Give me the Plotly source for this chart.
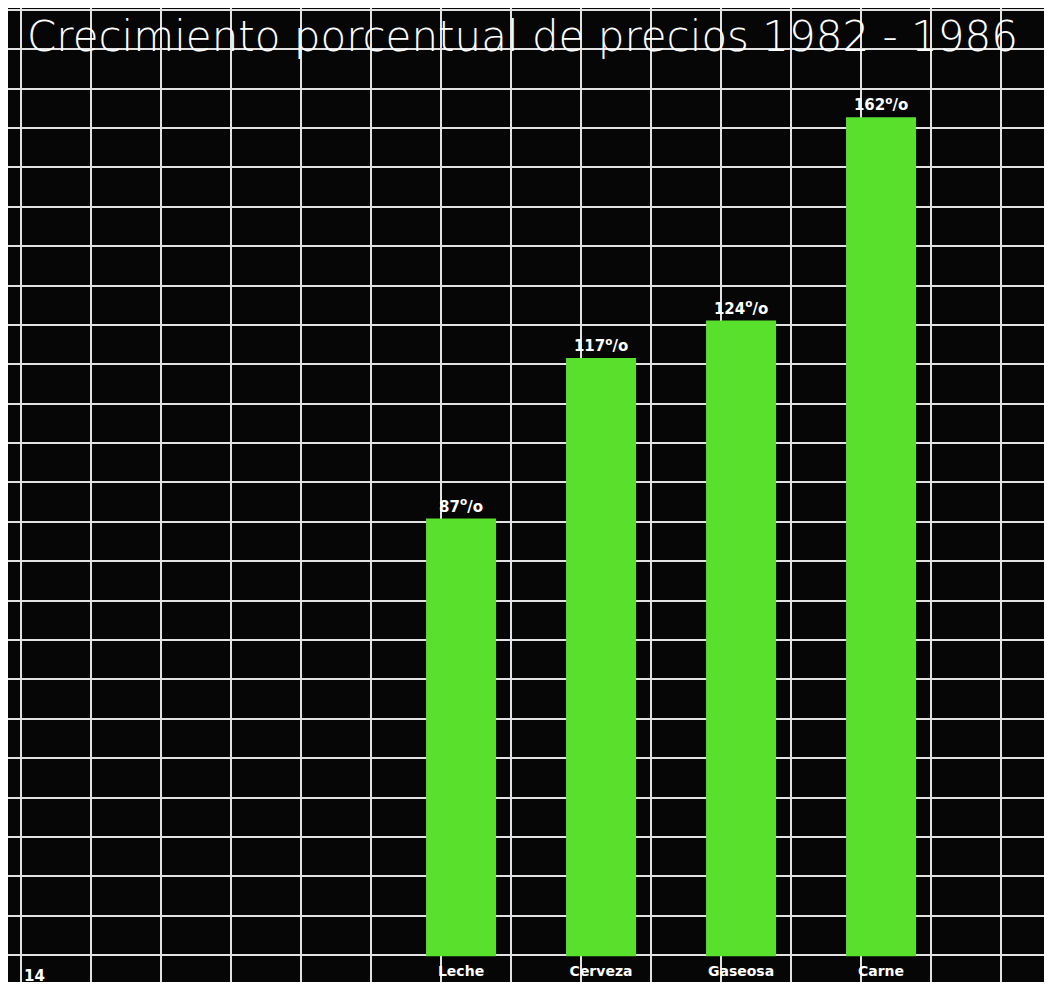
import numpy as np
import plotly.graph_objects as go

# ---- data ----
categories = ["Leche", "Cerveza", "Gaseosa", "Carne"]
values = [87, 117, 124, 162]
value_labels = ["87<sup>o</sup>/o", "117<sup>o</sup>/o", "124<sup>o</sup>/o", "162<sup>o</sup>/o"]
title_text = "Crecimiento porcentual de precios 1982 - 1986"
page_number = "14"

# ---- styling constants ----
W, H = 1036, 974      # page body has an 8px margin; keep the page free of scrollbars
BASE = 5.2            # visible baseline of the bars (axis value)
GREEN = "#58E02C"
GRID = "#e2e2e2"
x_pos = list(range(len(categories)))

fig = go.Figure(
    go.Bar(
        x=x_pos,
        y=[v - BASE for v in values],
        base=BASE,
        width=0.5,
        marker=dict(color=GREEN, line=dict(width=0)),
        text=value_labels,
        textposition="outside",
        constraintext="none",
        cliponaxis=False,
        textfont=dict(color="white", size=15, family="DejaVu Sans", weight="bold"),
        hoverinfo="skip",
    )
)

x_range = [-3.236, 4.164]
x_grid = list(np.arange(-3.143, 4.2, 0.5))

fig.update_xaxes(
    range=x_range,
    tickmode="array",
    tickvals=x_pos,
    ticktext=categories,
    ticklabelposition="inside",
    ticks="",
    showgrid=False,
    zeroline=False,
    showline=False,
    tickfont=dict(color="white", size=14, family="DejaVu Sans", weight="bold"),
    minor=dict(tickmode="array", tickvals=x_grid, showgrid=True,
               gridcolor=GRID, gridwidth=2, ticks=""),
    fixedrange=True,
)

fig.update_yaxes(
    range=[0.374, 182.43],
    tick0=5.42,
    dtick=7.36,
    showgrid=True,
    gridcolor=GRID,
    gridwidth=2,
    showticklabels=False,
    ticks="",
    zeroline=False,
    showline=False,
    fixedrange=True,
)

fig.update_layout(
    width=W,
    height=H,
    margin=dict(l=0, r=0, t=0, b=0, pad=0),
    paper_bgcolor="white",
    plot_bgcolor="#060606",
    showlegend=False,
    bargap=0.5,
    title=dict(
        text=title_text,
        font=dict(family="DejaVu Sans", size=42, weight=200, color="white"),
        xref="container", x=19 / W, xanchor="left",
        yref="container", y=1 - 28 / H, yanchor="middle",
    ),
    annotations=[
        dict(
            text=page_number,
            xref="paper", yref="paper",
            x=14 / W, y=(H - 957) / H,
            xanchor="left", yanchor="top",
            showarrow=False,
            font=dict(color="white", size=15, family="DejaVu Sans", weight="bold"),
        )
    ],
)

fig.write_html("out.html")
